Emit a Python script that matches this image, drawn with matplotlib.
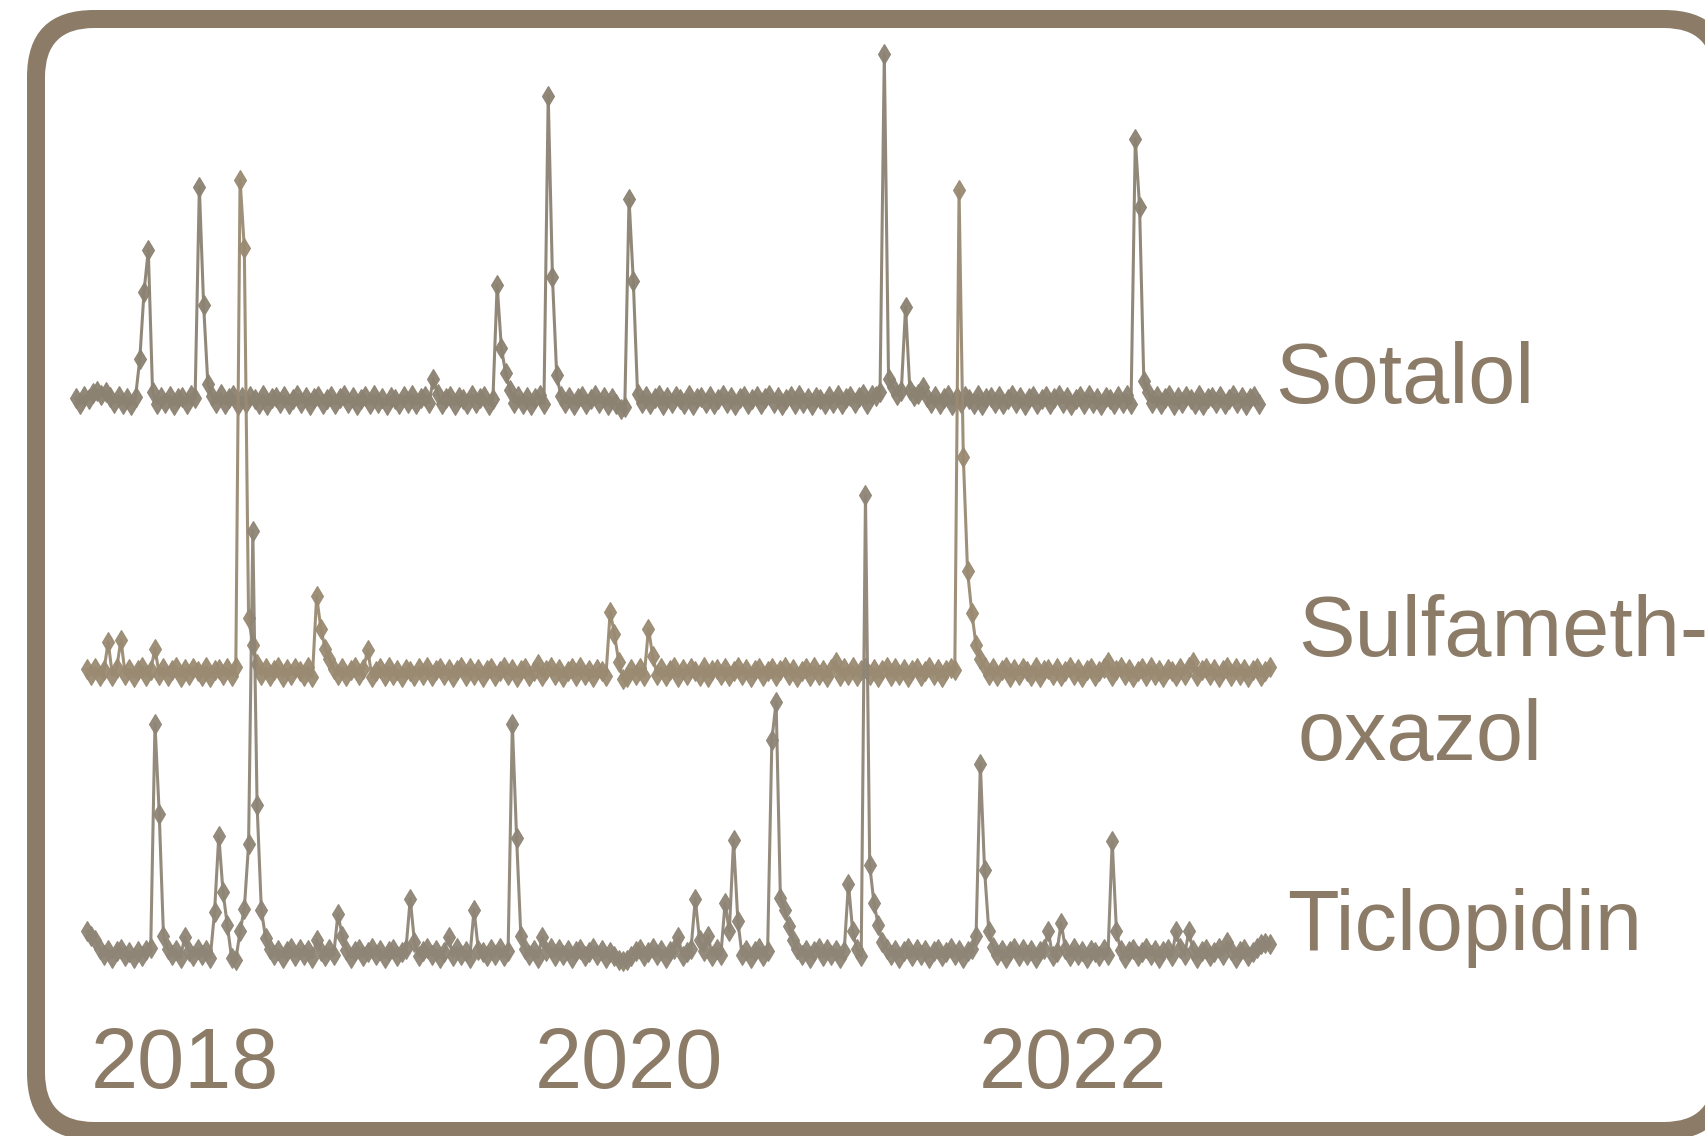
import matplotlib
matplotlib.use('Agg')
import matplotlib.pyplot as plt
from matplotlib.patches import FancyBboxPatch
import pandas as pd

# weekly signal per compound (arbitrary units, baseline ~0)
sotalol = [2, -3, 4, 1, 7, 9, 5, 8, 3, -2, 4, -3, 2, -4, 3, 38, 100, 138, 8, -3,
           3, -2, 4, -4, 2, 3, -3, 5, 2, 196, 88, 15, 4, -2, 6, -3, 2, 5, -4, 3,
           -2, 4, 1, -3, 5, -4, 2, 3, -2, 4, -3, 1, 5, -2, 3, -4, 2, 4, -3, 1,
           4, -3, 2, 5, -2, 3, -4, 1, 4, -3, 5, -2, 2, -4, 3, 1, -3, 4, -2, 5,
           -3, 2, 4, -2, 20, 6, -3, 2, 4, -4, 3, 1, -3, 5, -2, 2, 4, -4, 1, 106,
           48, 25, 10, -2, 4, -3, 3, -4, 2, 5, -3, 280, 113, 23, 4, -2, 3, -4, 2, 4,
           -3, 1, 5, -2, 3, -4, 2, -3, -8, -6, 185, 110, 6, -2, 4, -3, 2, 5, -4, 3,
           -2, 4, 1, -3, 5, -4, 2, 3, -2, 4, -3, 1, 5, -2, 3, -4, 2, 4, -3, 1,
           4, -3, 2, 5, -2, 3, -4, 1, 4, -3, 5, -2, 2, -4, 3, 1, -3, 4, -2, 5,
           -3, 2, 4, -2, 3, 6, -3, 5, 4, 8, 318, 20, 12, 5, 9, 86, 10, 4, 6, 12,
           3, -2, 4, -3, 2, 5, -4, 3, -2, 4, 1, -3, 5, -4, 2, 3, -2, 4, -3, 1,
           5, -2, 3, -4, 2, 4, -3, 1, 4, -3, 2, 5, -2, 3, -4, 1, 4, -3, 5, -2,
           2, -4, 3, 1, -3, 4, -2, 5, -3, 240, 178, 18, 8, -2, 4, -3, 2, 5, -4, 3,
           -2, 4, 1, -3, 5, -4, 2, 3, -2, 4, -3, 1, 5, -2, 3, -4, 2, 4, -3]

sulfamethoxazol = [3, -2, 4, -3, 2, 28, -3, 4, 30, -2, 3, -4, 2, 5, -3, 2, 22, -2, 4, -3,
                   2, 5, -4, 3, -2, 4, 1, -3, 5, -4, 2, 3, -2, 4, -3, 5, 453, 390, 50, 25,
                   8, -2, 4, -3, 2, 5, -4, 3, -2, 4, 1, -3, 5, -4, 70, 40, 22, 12, 3, -2,
                   4, -3, 2, 5, -2, 3, 21, -4, 1, 4, -3, 5, -2, 2, -4, 3, 1, -3, 4, -2,
                   5, -3, 2, 4, -2, 3, -4, 2, 5, -3, 4, -2, 3, -4, 2, 4, -3, 1, 5, -2,
                   3, -4, 2, 4, -3, 1, 8, -3, 2, 5, -2, 3, -4, 1, 4, -3, 5, -2, 2, -4,
                   3, 1, -3, 56, 35, 10, -6, -4, 3, -2, 4, -3, 40, 15, -2, 4, -3, 2, 5, -4,
                   3, -2, 4, 1, -3, 5, -4, 2, 3, -2, 4, -3, 1, 5, -2, 3, -4, 2, 4, -3,
                   1, 4, -3, 2, 5, -2, 3, -4, 1, 4, -3, 5, -2, 2, -4, 3, 10, -3, 4, -2,
                   5, -3, 2, 4, -2, 3, -4, 2, 5, -3, 4, -2, 3, -4, 2, 4, -3, 1, 5, -2,
                   3, -4, 2, 4, 2, 443, 198, 93, 55, 25, 12, 5, -2, 4, -3, 2, 5, -4, 3, -2,
                   4, 1, -3, 5, -4, 2, 3, -2, 4, -3, 1, 5, -2, 3, -4, 2, 4, -3, 1, 4,
                   10, -3, 2, 5, -2, 3, -4, 1, 4, -3, 5, -2, 2, -4, 3, 1, -3, 4, -2, 5,
                   10, -3, 2, 4, -2, 3, -4, 2, 5, -3, 4, -2, 3, -4, 2, 4, -3, 1, 5]

ticlopidin = [20, 16, 12, 4, -2, 3, -4, 2, 4, -3, 1, -4, 2, -3, 3, 5, 211, 128, 16, 4,
              -2, 3, -4, 15, 2, -3, 4, -2, 3, -4, 38, 108, 56, 26, -4, -6, 20, 41, 100, 388,
              136, 40, 14, 4, -2, 3, -4, 2, 5, -3, 4, -2, 3, -4, 12, 2, -3, 4, -2, 36,
              16, 3, -4, 2, 4, -3, 1, 5, -2, 3, -4, 2, 4, -3, 1, 4, 50, 10, -3, 2,
              5, -2, 3, -4, 1, 15, -3, 5, -2, 2, -4, 40, 3, 1, -3, 4, -2, 5, -3, 2,
              211, 106, 16, 4, -2, 3, -4, 15, 2, 5, -3, 4, -2, 3, -4, 2, 4, -3, 1, 5,
              -2, 3, -4, 1, -3, -6, -7, -6, -3, 2, 4, -3, 1, 5, -2, 3, -4, 2, 4, 15,
              -3, 1, 4, 50, 12, 2, 16, -3, 4, -2, 46, 20, 104, 30, -2, 3, -4, 2, 5, -3,
              2, 196, 231, 51, 40, 25, 12, 4, -2, 3, -4, 2, 5, -3, 4, -2, 3, -4, 2, 64,
              20, 4, -3, 421, 81, 46, 26, 10, 4, -2, 3, -4, 2, 5, -3, 4, -2, 3, -4, 2,
              4, -3, 1, 5, -2, 3, -4, 2, 4, 16, 174, 76, 20, 6, -2, 3, -4, 2, 5, -3,
              4, -2, 3, -4, 2, 4, 20, -3, 1, 28, 4, -3, 5, -2, 2, -4, 3, 1, -3, 4,
              -2, 103, 20, 3, -4, 2, 4, -3, 1, 5, -2, 3, -4, 2, 4, -3, 20, 5, -2, 20,
              3, -4, 2, 4, -3, 1, 5, -2, 10, 3, -4, 2, 4, -3, 1, 5, 8, 9, 8]

series = [sotalol, sulfamethoxazol, ticlopidin]
start_dates = ['2017-07-06', '2017-07-24', '2017-07-24']
offsets = [508, 258, 0]
line_colors = ['#8c8272', '#9a8a72', '#8e8576']
years = ['2018', '2020', '2022']

brown = '#8b7b67'

fig = plt.figure(figsize=(17.06, 11.36), dpi=100)

# rounded frame as a filled ring (outer brown box, inner white box),
# running off the right and bottom edges of the canvas
outer = FancyBboxPatch((0.27, -0.04), 17.04, 11.30,
                       boxstyle='round,pad=0,rounding_size=0.67',
                       transform=fig.dpi_scale_trans, facecolor=brown,
                       edgecolor='none', zorder=-2)
inner = FancyBboxPatch((0.45, 0.14), 16.68, 10.94,
                       boxstyle='round,pad=0,rounding_size=0.49',
                       transform=fig.dpi_scale_trans, facecolor='white',
                       edgecolor='none', zorder=-1)
fig.patches.extend([outer, inner])

ax = fig.add_axes([0, 0, 1, 1])
ax.patch.set_visible(False)

for vals, start, off, col in zip(series, start_dates, offsets, line_colors):
    dates = pd.date_range(start, periods=len(vals), freq='7D')
    ax.plot(dates, [v + off for v in vals], color=col, lw=2.2,
            marker='d', ms=10, mec=col, mfc=col, mew=0.8, alpha=0.95)

ax.set_xlim(pd.Timestamp('2017-03-03'), pd.Timestamp('2024-11-08'))
ax.set_ylim(-168, 876)
ax.axis('off')

# year labels below the traces
for y in years:
    ax.text(pd.Timestamp(y + '-01-01'), -124, y, ha='center', va='baseline',
            fontsize=61, color=brown, family='Liberation Sans')

# compound names on the right
lab = dict(fontsize=61, color=brown, family='Liberation Sans', va='baseline', ha='left')
fig.text(0.7474, 0.6456, 'Sotalol', **lab)
fig.text(0.7608, 0.4224, 'Sulfameth-', **lab)
fig.text(0.7608, 0.3314, 'oxazol', **lab)
fig.text(0.7545, 0.1638, 'Ticlopidin', **lab)

fig.savefig('out.png', dpi=100, facecolor='white')
